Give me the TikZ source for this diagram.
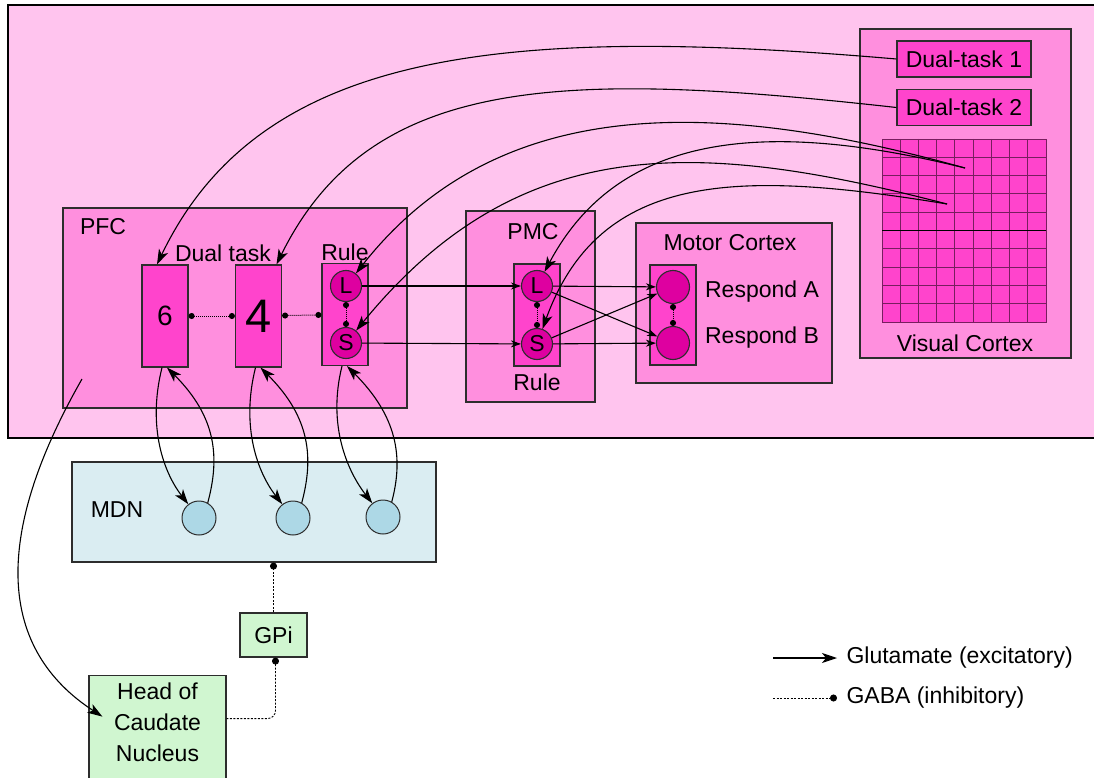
\documentclass[tikz,border=0pt]{standalone}
\usepackage{fontspec}
\setmainfont{Liberation Sans}
\usetikzlibrary{arrows.meta}

\definecolor{cortexbg}{RGB}{255,196,238}
\definecolor{areapink}{RGB}{255,143,222}
\definecolor{unitpink}{RGB}{255,68,204}
\definecolor{cellpink}{RGB}{222,0,160}
\definecolor{mdnblue}{RGB}{218,237,242}
\definecolor{cellblue}{RGB}{173,216,230}
\definecolor{bgreen}{RGB}{208,246,208}
\definecolor{edgegray}{RGB}{45,45,45}
\definecolor{gridmag}{RGB}{120,30,95}

\tikzset{
  areabox/.style={draw=edgegray,line width=1.4pt,fill=areapink},
  unitbox/.style={draw=edgegray,line width=1.2pt,fill=unitpink,minimum width=46,minimum height=102,inner sep=0},
  cellnode/.style={circle,draw=edgegray,line width=1.1pt,fill=cellpink,minimum size=31,inner sep=0},
  mcell/.style={circle,draw=edgegray,line width=1pt,fill=cellblue,minimum size=34,inner sep=0},
  gbox/.style={draw=edgegray,line width=1.2pt,fill=bgreen},
  gridstroke/.style={draw=gridmag,line width=0.8pt},
  glu/.style={->,line width=1.1pt},
  smallglu/.style={-{Stealth[length=10pt,width=7pt,inset=3pt]},line width=1.1pt},
  gaba/.style={line width=0.9pt,dash pattern=on 2pt off 1.5pt},
  dotlink/.style={arrows={Circle[length=6pt]-Circle[length=6pt]},line width=1pt,dash pattern=on 1pt off 1pt},
}

\begin{document}
\begin{tikzpicture}[x=1pt,y=-1pt,>={Stealth[length=15pt,width=10pt,inset=4pt]},
  every node/.style={font=\fontsize{23}{27}\selectfont}]
\clip (0,0) rectangle (1094,778);
\fill[white] (0,0) rectangle (1094,778);
\draw[line width=2.4pt,fill=cortexbg] (8,5) rectangle (1120,438); % cortex

% areas
\draw[areabox] (63,208) rectangle (407,408);
\draw[areabox] (466,211) rectangle (595,402);
\draw[areabox] (636,223) rectangle (832,383);
\draw[areabox] (860,29) rectangle (1071,358);
\node (pfc) at (103,227) {PFC};
\node (pmc) at (533,232) {PMC};
\node (motor) at (730,243) {Motor Cortex};
\node (visual) at (965,343) {Visual Cortex};

% PFC
\node[unitbox] (six) at (165,316) {\fontsize{28}{30}\selectfont 6};
\node[unitbox] (four) at (258.5,316) {\fontsize{47}{50}\selectfont 4};
\node[unitbox] (rule) at (345,314.5) {};
\node[cellnode] (rL) at (346,286) {L};
\node[cellnode] (rS) at (346,343) {S};
\node (dual) at (223,253) {Dual task};
\node (rulelbl) at (345,252) {Rule};

% PMC and motor cortex
\node[unitbox] (prule) at (537,315) {};
\node[cellnode] (pL) at (537,286) {L};
\node[cellnode] (pS) at (537,344) {S};
\node (prulelbl) at (537,382) {Rule};
\node[unitbox,minimum height=100] (resp) at (673,315) {};
\node[cellnode,minimum size=33] (mA) at (673,287) {};
\node[cellnode,minimum size=33] (mB) at (673,343) {};
\node (respA) at (762,292) {Respond A};
\node (respB) at (762,338) {Respond B};

% visual cortex
\node[unitbox,minimum width=134,minimum height=36] (dt1) at (964,59) {Dual-task 1};
\node[unitbox,minimum width=134,minimum height=36] (dt2) at (964,107.5) {Dual-task 2};
\draw[gridstroke,fill=unitpink] (882,139) rectangle (1046,322);
\foreach \i in {1,...,8} % columns
  \draw[gridstroke] (882+\i*18.22,139) -- (882+\i*18.22,322);
\foreach \j in {1,...,9} % rows
  \draw[gridstroke] (882,139+\j*18.3) -- (1046,139+\j*18.3);
\draw[line width=1.8pt] (882,230.5) -- (1046,230.5);

% subcortical
\node[draw=edgegray,line width=1.2pt,fill=mdnblue,minimum width=364,minimum height=100] (mdn) at (254,512) {};
\node (mdnlbl) at (117,510) {MDN};
\node[mcell] (m1) at (199,518) {};
\node[mcell] (m2) at (293,518) {};
\node[mcell] (m3) at (383,517) {};
\node[gbox,minimum width=67,minimum height=44] (gpi) at (273.5,635) {GPi};
\node[gbox,minimum width=137,minimum height=120,anchor=north] (cau) at (157.5,675) {};
\node[align=center,font=\fontsize{23}{31}\selectfont] (cautxt) at (157.5,722) {Head of\\Caudate\\Nucleus};

% inputs from visual cortex
\coordinate (gA) at (965,168);
\coordinate (gB) at (947,204);
\draw[glu] (dt1.west) .. controls (500,25) and (260,50) .. ([xshift=-8pt]six.north);
\draw[glu] (dt2.west) .. controls (560,70) and (370,75) .. ([xshift=18pt]four.north);
\draw[glu] (gA) .. controls (720,100) and (500,90) .. (rL);
\draw[glu] (gA) .. controls (770,120) and (620,130) .. (pL);
\draw[glu] (gB) .. controls (700,140) and (520,130) .. (rS);
\draw[glu] (gB) .. controls (740,170) and (600,170) .. (pS);

% rule to response
\draw[smallglu] (rL) -- (pL);
\draw[smallglu] (rS) -- (pS);
\draw[smallglu] (pL) -- (mA);
\draw[smallglu] (pL) -- (mB);
\draw[smallglu] (pS) -- (mA);
\draw[smallglu] (pS) -- (mB);

\draw[dotlink] (six) -- (four);
\draw[dotlink] (four) -- (rule);
\draw[dotlink] (rL) -- (rS);
\draw[dotlink] (pL) -- (pS);
\draw[dotlink] (mA) -- (mB);

\foreach \b/\m in {six/m1, four/m2, rule/m3} { % loops through MDN
  \draw[glu] ([xshift=-3pt]\b.south) .. controls +(-15,60) and +(-35,-45) .. (\m);
  \draw[glu] (\m.60) .. controls +(12,-45) and +(50,50) .. ([xshift=2pt]\b.south);
}

% basal ganglia
\coordinate (pfcout) at (82,379);
\draw[glu] (pfcout) .. controls (-10,540) and (0,650) .. ([xshift=14pt,yshift=19pt]cau.west);
\draw[gaba,arrows={-Circle[length=7pt]}] (gpi.north) -- (gpi.north |- mdn.south);
\draw[gaba,arrows={Circle[length=7pt]-},rounded corners=8pt] ([xshift=2pt]gpi.south) |- ([yshift=17pt]cau.east);

% legend
\node[anchor=west] (glulbl) at (843,658) {Glutamate (excitatory)};
\node[anchor=west] (gabalbl) at (843,698) {GABA (inhibitory)};
\draw[glu] ([xshift=-70pt]glulbl.west) -- ([xshift=-6pt]glulbl.west);
\draw[gaba,arrows={-Circle[length=7pt]}] ([xshift=-70pt]gabalbl.west) -- ([xshift=-6pt]gabalbl.west);
\end{tikzpicture}
\end{document}
